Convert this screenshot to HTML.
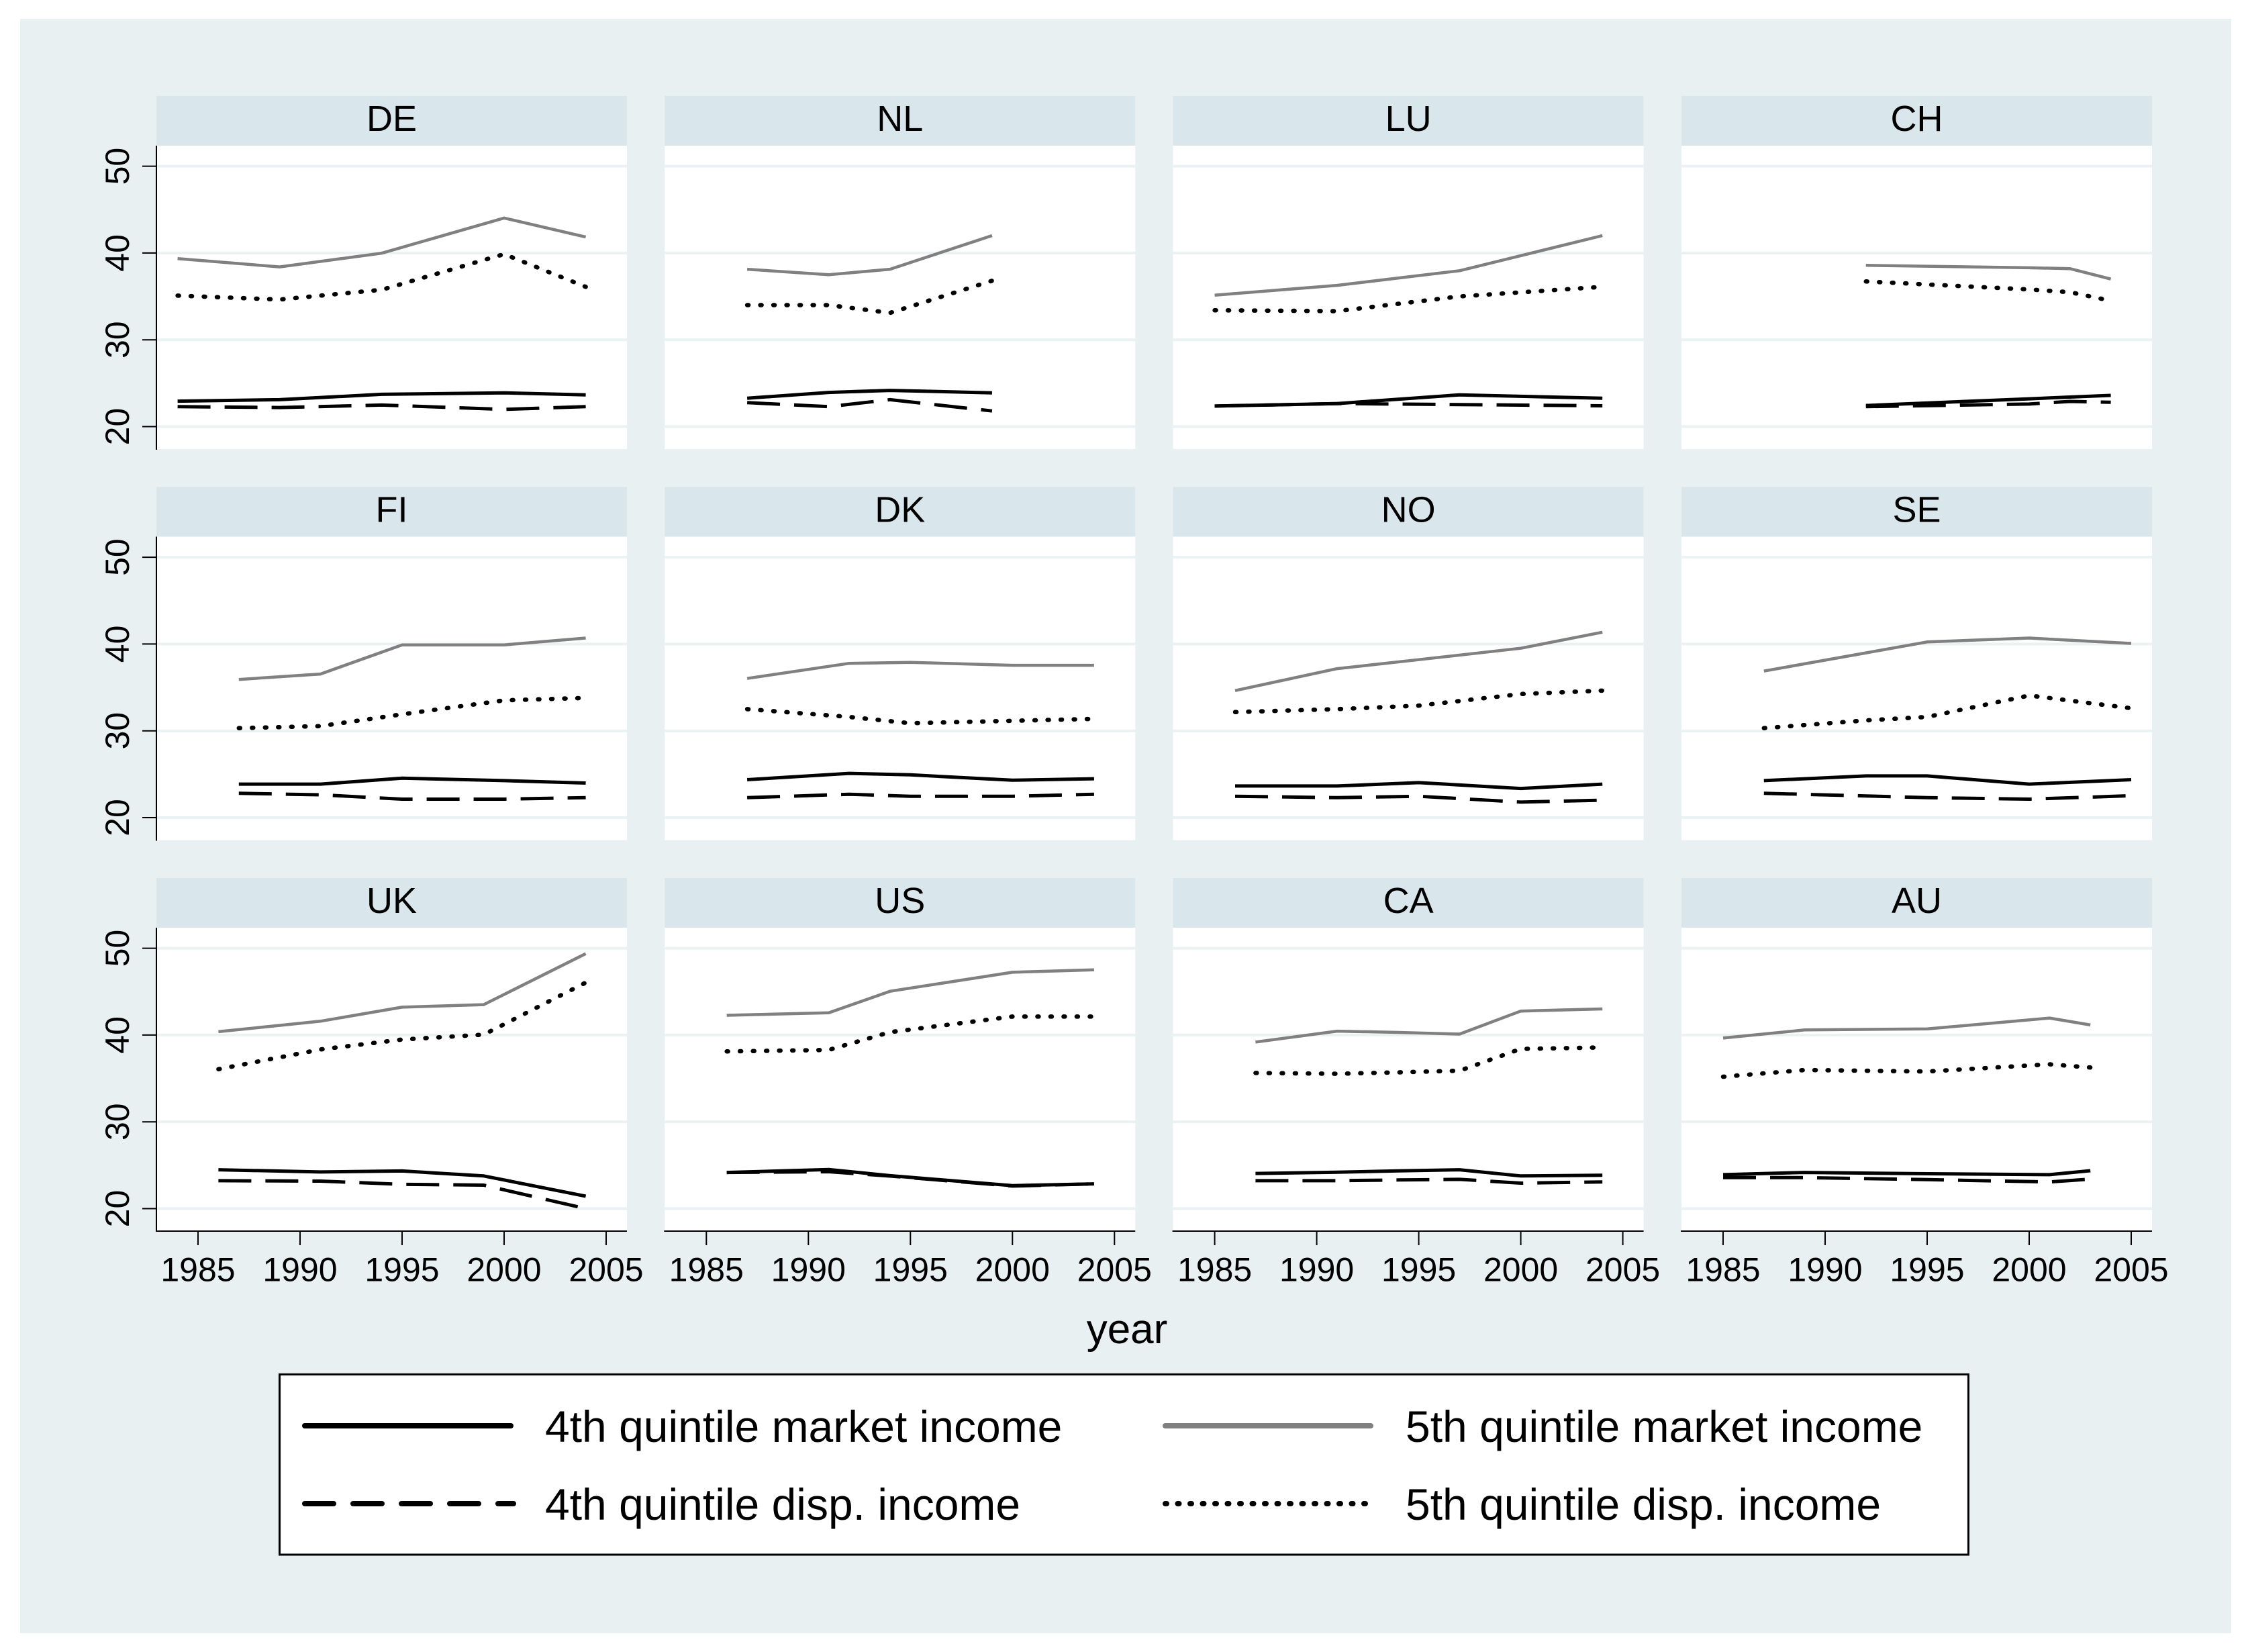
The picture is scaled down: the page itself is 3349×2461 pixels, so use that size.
<!DOCTYPE html>
<html><head><meta charset="utf-8"><style>
html,body{margin:0;padding:0;background:#fff}
svg{display:block}
text{font-family:"Liberation Sans",Arial,sans-serif;fill:#000}
.g{stroke:#808080;stroke-width:4.5;fill:none;stroke-linejoin:round}
.s{stroke:#000;stroke-width:5;fill:none;stroke-linejoin:round}
.d{stroke:#000;stroke-width:5;fill:none;stroke-dasharray:49 21;stroke-linejoin:round}
.o{stroke:#000;stroke-width:6.5;fill:none;stroke-dasharray:2 17.5;stroke-linecap:round;stroke-linejoin:round}
.grid{stroke:#EAF2F3;stroke-width:4}
.ax{stroke:#000;stroke-width:2;fill:none}
.tl{font-size:50px}
.st{font-size:54px}
</style></head><body>
<svg width="3349" height="2461" viewBox="0 0 3349 2461" xmlns="http://www.w3.org/2000/svg">
<rect x="0" y="0" width="3349" height="2461" fill="#fff"/>
<rect x="30" y="28" width="3294" height="2405" fill="#E8F0F2"/>

<defs>
<g id="frame">
<rect x="0" y="0" width="701" height="74" fill="#D9E6EB"/>
<rect x="0" y="74" width="701" height="452" fill="#fff"/>
<line class="grid" x1="0" x2="701" y1="104.6" y2="104.6"/>
<line class="grid" x1="0" x2="701" y1="233.9" y2="233.9"/>
<line class="grid" x1="0" x2="701" y1="363.2" y2="363.2"/>
<line class="grid" x1="0" x2="701" y1="492.5" y2="492.5"/>
</g>
<g id="yax">
<line class="ax" x1="0" y1="74" x2="0" y2="527"/>
<line class="ax" x1="-21" y1="104.6" x2="0" y2="104.6"/>
<line class="ax" x1="-21" y1="233.9" x2="0" y2="233.9"/>
<line class="ax" x1="-21" y1="363.2" x2="0" y2="363.2"/>
<line class="ax" x1="-21" y1="492.5" x2="0" y2="492.5"/>
</g>
<g id="xax">
<line class="ax" x1="-1" y1="526" x2="701" y2="526"/>
<line class="ax" x1="62" y1="526" x2="62" y2="547"/>
<line class="ax" x1="214" y1="526" x2="214" y2="547"/>
<line class="ax" x1="366" y1="526" x2="366" y2="547"/>
<line class="ax" x1="518" y1="526" x2="518" y2="547"/>
<line class="ax" x1="670" y1="526" x2="670" y2="547"/>
</g>
</defs>

<!-- Row 1 -->
<g transform="translate(233,143)"><use href="#frame"/><use href="#yax"/><text class="st" x="350.5" y="52" text-anchor="middle">DE</text>
<g class="tl"><text x="-41" y="104.6" text-anchor="middle" transform="rotate(-90 -41 104.6)">50</text><text x="-41" y="233.9" text-anchor="middle" transform="rotate(-90 -41 233.9)">40</text><text x="-41" y="363.2" text-anchor="middle" transform="rotate(-90 -41 363.2)">30</text><text x="-41" y="492.5" text-anchor="middle" transform="rotate(-90 -41 492.5)">20</text></g></g>
<g transform="translate(990.3,143)"><use href="#frame"/><text class="st" x="350.5" y="52" text-anchor="middle">NL</text></g>
<g transform="translate(1747.6,143)"><use href="#frame"/><text class="st" x="350.5" y="52" text-anchor="middle">LU</text></g>
<g transform="translate(2505,143)"><use href="#frame"/><text class="st" x="350.5" y="52" text-anchor="middle">CH</text></g>

<!-- Row 2 -->
<g transform="translate(233,725.5)"><use href="#frame"/><use href="#yax"/><text class="st" x="350.5" y="52" text-anchor="middle">FI</text>
<g class="tl"><text x="-41" y="104.6" text-anchor="middle" transform="rotate(-90 -41 104.6)">50</text><text x="-41" y="233.9" text-anchor="middle" transform="rotate(-90 -41 233.9)">40</text><text x="-41" y="363.2" text-anchor="middle" transform="rotate(-90 -41 363.2)">30</text><text x="-41" y="492.5" text-anchor="middle" transform="rotate(-90 -41 492.5)">20</text></g></g>
<g transform="translate(990.3,725.5)"><use href="#frame"/><text class="st" x="350.5" y="52" text-anchor="middle">DK</text></g>
<g transform="translate(1747.6,725.5)"><use href="#frame"/><text class="st" x="350.5" y="52" text-anchor="middle">NO</text></g>
<g transform="translate(2505,725.5)"><use href="#frame"/><text class="st" x="350.5" y="52" text-anchor="middle">SE</text></g>

<!-- Row 3 -->
<g transform="translate(233,1308)"><use href="#frame"/><use href="#yax"/><use href="#xax"/><text class="st" x="350.5" y="52" text-anchor="middle">UK</text>
<g class="tl"><text x="-41" y="104.6" text-anchor="middle" transform="rotate(-90 -41 104.6)">50</text><text x="-41" y="233.9" text-anchor="middle" transform="rotate(-90 -41 233.9)">40</text><text x="-41" y="363.2" text-anchor="middle" transform="rotate(-90 -41 363.2)">30</text><text x="-41" y="492.5" text-anchor="middle" transform="rotate(-90 -41 492.5)">20</text></g>
<g class="tl" text-anchor="middle"><text x="62" y="600.6">1985</text><text x="214" y="600.6">1990</text><text x="366" y="600.6">1995</text><text x="518" y="600.6">2000</text><text x="670" y="600.6">2005</text></g></g>
<g transform="translate(990.3,1308)"><use href="#frame"/><use href="#xax"/><text class="st" x="350.5" y="52" text-anchor="middle">US</text>
<g class="tl" text-anchor="middle"><text x="62" y="600.6">1985</text><text x="214" y="600.6">1990</text><text x="366" y="600.6">1995</text><text x="518" y="600.6">2000</text><text x="670" y="600.6">2005</text></g></g>
<g transform="translate(1747.6,1308)"><use href="#frame"/><use href="#xax"/><text class="st" x="350.5" y="52" text-anchor="middle">CA</text>
<g class="tl" text-anchor="middle"><text x="62" y="600.6">1985</text><text x="214" y="600.6">1990</text><text x="366" y="600.6">1995</text><text x="518" y="600.6">2000</text><text x="670" y="600.6">2005</text></g></g>
<g transform="translate(2505,1308)"><use href="#frame"/><use href="#xax"/><text class="st" x="350.5" y="52" text-anchor="middle">AU</text>
<g class="tl" text-anchor="middle"><text x="62" y="600.6">1985</text><text x="214" y="600.6">1990</text><text x="366" y="600.6">1995</text><text x="518" y="600.6">2000</text><text x="670" y="600.6">2005</text></g></g>

<!-- Data: DE -->
<g transform="translate(295,247.6)">
<polyline class="g" points="-30.4,137.6 121.6,150.0 273.6,129.6 456,77.2 577.6,105.5"/>
<polyline class="o" points="-30.4,192.8 121.6,198.6 273.6,184.1 456,131.0 577.6,179.7"/>
<polyline class="s" points="-30.4,350.0 121.6,347.8 273.6,339.8 456,337.6 577.6,340.6"/>
<polyline class="d" points="-30.4,358.2 121.6,359.5 273.6,355.8 456,362.3 577.6,358.2"/>
</g>
<!-- NL -->
<g transform="translate(1052.3,247.6)">
<polyline class="g" points="60.8,153.5 182.4,161.6 273.6,153.5 425.6,103.4"/>
<polyline class="o" points="60.8,206.9 182.4,206.9 273.6,218.5 425.6,170.7"/>
<polyline class="s" points="60.8,345.6 182.4,337.0 273.6,334.0 425.6,337.6"/>
<polyline class="d" points="60.8,352.2 182.4,358.2 273.6,347.8 425.6,364.6"/>
</g>
<!-- LU -->
<g transform="translate(1809.6,247.6)">
<polyline class="g" points="0,192.1 182.4,177.5 364.8,155.7 577.6,103.4"/>
<polyline class="o" points="0,214.6 182.4,215.9 364.8,194.0 577.6,179.7"/>
<polyline class="s" points="0,357.3 182.4,353.6 364.8,340.6 577.6,345.6"/>
<polyline class="d" points="0,357.3 182.4,353.6 364.8,355.1 577.6,356.9"/>
</g>
<!-- CH -->
<g transform="translate(2567,247.6)">
<polyline class="g" points="212.8,147.7 456,151.3 516.8,152.6 577.6,168.1"/>
<polyline class="o" points="212.8,171.7 456,183.6 516.8,187.7 577.6,200.4"/>
<polyline class="s" points="212.8,356.5 456,346.5 516.8,343.9 577.6,341.4"/>
<polyline class="d" points="212.8,358.2 456,354.3 516.8,350.4 577.6,351.7"/>
</g>
<!-- FI -->
<g transform="translate(295,830.1)">
<polyline class="g" points="60.8,182.1 182.4,174.0 304,130.6 456,130.6 577.6,120.4"/>
<polyline class="o" points="60.8,254.6 182.4,251.6 304,234.0 456,213.2 577.6,209.6"/>
<polyline class="s" points="60.8,338.0 182.4,338.0 304,329.2 456,332.8 577.6,336.4"/>
<polyline class="d" points="60.8,351.7 182.4,353.9 304,360.4 456,360.4 577.6,358.2"/>
</g>
<!-- DK -->
<g transform="translate(1052.3,830.1)">
<polyline class="g" points="60.8,180.6 212.8,158.1 304,156.6 456,161.0 577.6,161.0"/>
<polyline class="o" points="60.8,226.3 212.8,237.9 304,247.3 456,243.7 577.6,240.8"/>
<polyline class="s" points="60.8,331.4 212.8,322.0 304,324.2 456,332.2 577.6,330.0"/>
<polyline class="d" points="60.8,358.2 212.8,353.1 304,356.1 456,356.1 577.6,353.1"/>
</g>
<!-- NO -->
<g transform="translate(1809.6,830.1)">
<polyline class="g" points="30.4,198.7 182.4,166.0 304,152.6 456,135.6 577.6,111.7"/>
<polyline class="o" points="30.4,230.7 182.4,226.3 304,221.1 456,203.8 577.6,198.7"/>
<polyline class="s" points="30.4,340.8 182.4,340.8 304,335.8 456,344.5 577.6,338.0"/>
<polyline class="d" points="30.4,356.1 182.4,358.2 304,356.1 456,364.8 577.6,361.9"/>
</g>
<!-- SE -->
<g transform="translate(2567,830.1)">
<polyline class="g" points="60.8,169.6 212.8,142.5 304,126.2 456,120.4 608,128.4"/>
<polyline class="o" points="60.8,254.6 212.8,243.1 304,237.9 456,206.0 608,225.0"/>
<polyline class="s" points="60.8,332.8 212.8,325.8 304,325.8 456,338.0 608,331.4"/>
<polyline class="d" points="60.8,351.7 212.8,355.6 304,358.2 456,360.4 608,355.3"/>
</g>
<!-- UK -->
<g transform="translate(295,1412.6)">
<polyline class="g" points="30.4,124.3 182.4,108.7 304,87.8 425.6,84.0 577.6,8.1"/>
<polyline class="o" points="30.4,180.2 182.4,150.8 304,136.0 425.6,128.7 577.6,51.2"/>
<polyline class="s" points="30.4,330.0 182.4,333.3 304,331.8 425.6,339.2 577.6,369.4"/>
<polyline class="d" points="30.4,346.3 182.4,346.9 304,351.7 425.6,352.9 577.6,387.9"/>
</g>
<!-- US -->
<g transform="translate(1052.3,1412.6)">
<polyline class="g" points="30.4,99.9 182.4,96.2 273.6,64.1 456,35.8 577.6,32.1"/>
<polyline class="o" points="30.4,153.7 182.4,151.5 273.6,125.0 456,101.8 577.6,101.8"/>
<polyline class="s" points="30.4,334.0 182.4,329.6 273.6,338.8 456,353.6 577.6,351.0"/>
<polyline class="d" points="30.4,334.0 182.4,332.9 273.6,339.4 456,354.3 577.6,351.0"/>
</g>
<!-- CA -->
<g transform="translate(1809.6,1412.6)">
<polyline class="g" points="60.8,139.8 182.4,123.5 273.6,125.4 364.8,127.9 456,93.6 577.6,90.4"/>
<polyline class="o" points="60.8,185.8 182.4,187.0 273.6,184.9 364.8,182.4 456,150.0 577.6,147.8"/>
<polyline class="s" points="60.8,335.5 182.4,333.7 273.6,331.7 364.8,330.0 456,339.2 577.6,338.1"/>
<polyline class="d" points="60.8,346.3 182.4,346.3 273.6,345.2 364.8,344.3 456,349.9 577.6,348.1"/>
</g>
<!-- AU -->
<g transform="translate(2567,1412.6)">
<polyline class="g" points="0,133.8 121.6,121.7 304,120.2 486.4,104.0 547.2,114.3"/>
<polyline class="o" points="0,191.4 121.6,181.4 304,183.6 486.4,172.9 547.2,177.7"/>
<polyline class="s" points="0,337.3 121.6,334.0 304,335.9 486.4,337.3 547.2,331.4"/>
<polyline class="d" points="0,341.7 121.6,341.7 304,344.7 486.4,348.1 547.2,343.9"/>
</g>

<!-- axis title -->
<text x="1679" y="2001" font-size="62" text-anchor="middle">year</text>

<!-- legend -->
<rect x="416.5" y="2047.5" width="2516" height="268.5" fill="#fff" stroke="#000" stroke-width="3"/>
<line x1="454" y1="2124" x2="761" y2="2124" stroke="#000" stroke-width="8" stroke-linecap="round"/>
<line x1="454" y1="2240" x2="765" y2="2240" stroke="#000" stroke-width="8" stroke-linecap="round" stroke-dasharray="43 29"/>
<line x1="1736" y1="2124" x2="2042" y2="2124" stroke="#808080" stroke-width="8" stroke-linecap="round"/>
<line x1="1736" y1="2240" x2="2043" y2="2240" stroke="#000" stroke-width="8" stroke-linecap="round" stroke-dasharray="2 16.5"/>
<text x="812" y="2148" font-size="66">4th quintile market income</text>
<text x="812" y="2264" font-size="66">4th quintile disp. income</text>
<text x="2094" y="2148" font-size="66">5th quintile market income</text>
<text x="2094" y="2264" font-size="66">5th quintile disp. income</text>
</svg>
</body></html>
